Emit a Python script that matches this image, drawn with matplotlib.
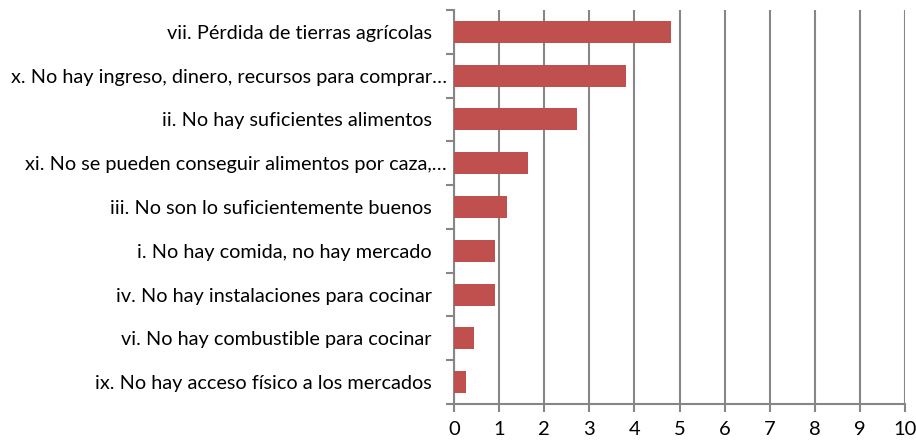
import matplotlib.pyplot as plt
import numpy as np

# Data (top to bottom as shown)
nb = '\u00a0\u00a0\u00a0'
labels = [
    'vii. Pérdida de tierras agrícolas' + nb,
    'x. No hay ingreso, dinero, recursos para comprar…',
    'ii. No hay suficientes alimentos' + nb,
    'xi. No se pueden conseguir alimentos por caza,…',
    'iii. No son lo suficientemente buenos' + nb,
    'i. No hay comida, no hay mercado' + nb,
    'iv. No hay instalaciones para cocinar' + nb,
    'vi. No hay combustible para cocinar' + nb,
    'ix. No hay acceso físico a los mercados' + nb,
]
values = [4.82, 3.82, 2.73, 1.64, 1.18, 0.91, 0.91, 0.45, 0.27]
x_ticks = list(range(0, 11))

plt.rcParams['font.family'] = ['Lato', 'DejaVu Sans']
grey = '#868686'

fig = plt.figure(figsize=(9.16, 4.43), dpi=100)
ax = fig.add_axes([454 / 916, 1 - 404 / 443, 451 / 916, 394 / 443])

y = np.arange(len(labels))[::-1]
ax.barh(y, values, height=0.5, color='#C0504D', zorder=3)

ax.set_xlim(0, 10)
ax.set_ylim(-0.5, len(labels) - 0.5)
ax.set_xticks(x_ticks)
ax.set_xticklabels([str(t) for t in x_ticks], fontsize=14.5)
ax.xaxis.grid(True, color=grey, linewidth=1.5, zorder=0)

# category boundary ticks as major, labels as minor
ax.set_yticks(np.arange(-0.5, len(labels), 1.0))
ax.set_yticklabels([])
ax.set_yticks(y, minor=True)
ax.set_yticklabels(labels, minor=True, fontsize=14.3)
ax.tick_params(axis='y', which='minor', length=0, pad=5)
ax.tick_params(axis='y', which='major', length=6, width=1.5, color=grey)
ax.tick_params(axis='x', length=6, width=1.5, color=grey, pad=6)

for side in ['top', 'right']:
    ax.spines[side].set_visible(False)
for side in ['left', 'bottom']:
    ax.spines[side].set_color(grey)
    ax.spines[side].set_linewidth(1.5)

fig.savefig('out.png', dpi=100)
